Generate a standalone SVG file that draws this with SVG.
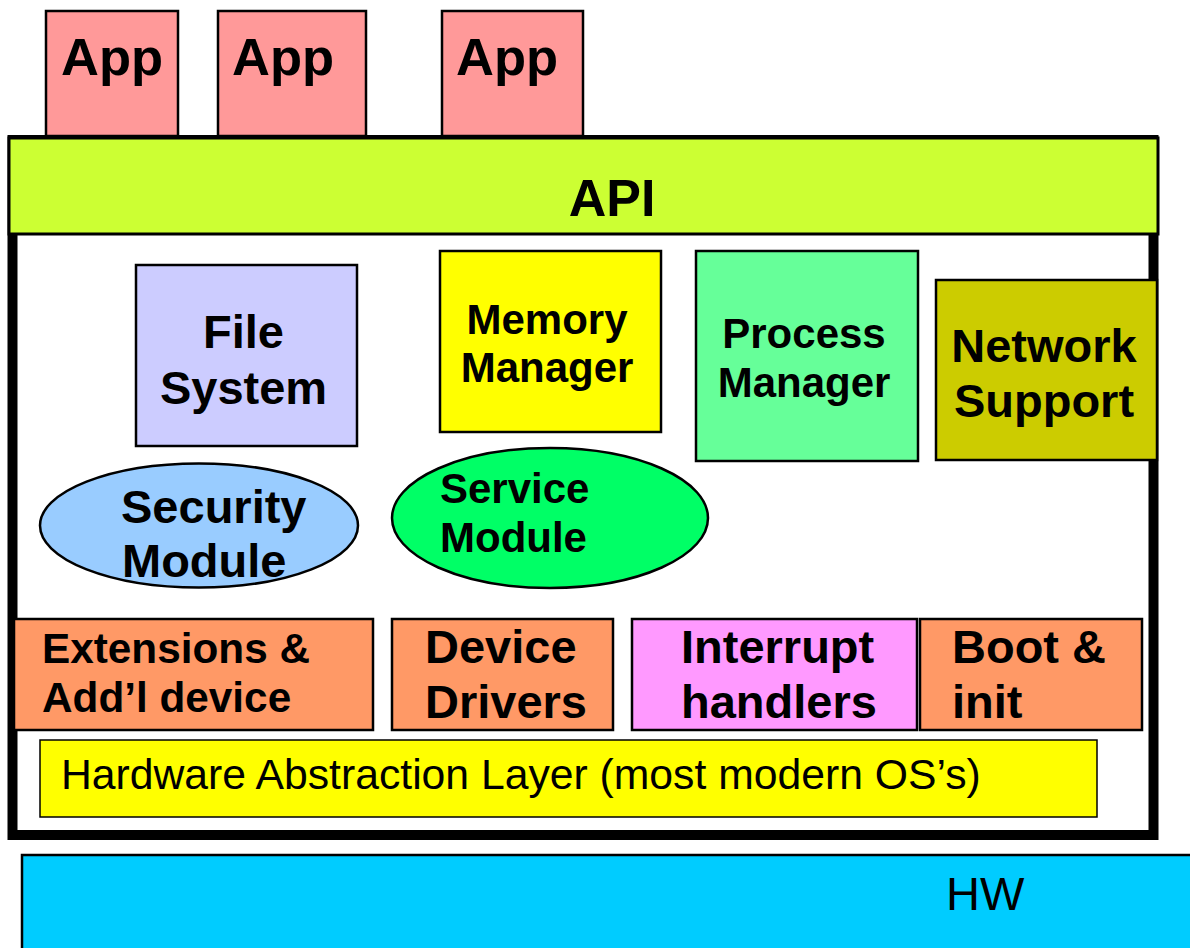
<svg xmlns="http://www.w3.org/2000/svg" width="1190" height="948" viewBox="0 0 1190 948">
  <style>
    .box { stroke: #000; stroke-width: 2.5; }
    .b { font-family: "Liberation Sans", Arial, sans-serif; font-weight: bold; fill: #000; }
    .r { font-family: "Liberation Sans", Arial, sans-serif; fill: #000; }
  </style>
  <rect x="0" y="0" width="1190" height="948" fill="#fff"/>

  <!-- Hardware layer -->
  <g id="hw">
    <rect x="22" y="855" width="1180" height="110" fill="#00CCFF" class="box"/>
    <text x="946" y="910" class="r" font-size="47">HW</text>
  </g>

  <!-- Kernel frame -->
  <g id="kernel">
    <rect x="12.5" y="140" width="1141" height="695" fill="#fff" stroke="#000" stroke-width="10"/>
  </g>

  <!-- Applications -->
  <g id="app1">
    <rect x="46" y="11" width="132" height="125" fill="#FF9999" class="box"/>
    <text x="61" y="75" class="b" font-size="52.5">App</text>
  </g>
  <g id="app2">
    <rect x="218" y="11" width="148" height="125" fill="#FF9999" class="box"/>
    <text x="232" y="75" class="b" font-size="52.5">App</text>
  </g>
  <g id="app3">
    <rect x="442" y="11" width="141" height="125" fill="#FF9999" class="box"/>
    <text x="456" y="75" class="b" font-size="52.5">App</text>
  </g>

  <!-- API layer -->
  <g id="api">
    <rect x="9" y="138" width="1149" height="96" fill="#CCFF33" stroke="#000" stroke-width="3"/>
    <text x="612" y="216" class="b" font-size="52" text-anchor="middle">API</text>
  </g>

  <!-- Kernel subsystems -->
  <g id="file-system">
    <rect x="136" y="265" width="221" height="181" fill="#CCCCFF" class="box"/>
    <text x="243.5" y="348" class="b" font-size="47" text-anchor="middle">File</text>
    <text x="243.5" y="404" class="b" font-size="47" text-anchor="middle">System</text>
  </g>
  <g id="memory-manager">
    <rect x="440" y="251" width="221" height="181" fill="#FFFF00" class="box"/>
    <text x="547" y="334" class="b" font-size="42" text-anchor="middle">Memory</text>
    <text x="547" y="382" class="b" font-size="42" text-anchor="middle">Manager</text>
  </g>
  <g id="process-manager">
    <rect x="696" y="251" width="222" height="210" fill="#66FF99" class="box"/>
    <text x="804" y="348" class="b" font-size="42" text-anchor="middle">Process</text>
    <text x="804" y="397" class="b" font-size="42" text-anchor="middle">Manager</text>
  </g>
  <g id="network-support">
    <rect x="936" y="280" width="221" height="180" fill="#CCCC00" class="box"/>
    <text x="1044" y="362" class="b" font-size="47" text-anchor="middle">Network</text>
    <text x="1044" y="417" class="b" font-size="47" text-anchor="middle">Support</text>
  </g>

  <g id="security-module">
    <ellipse cx="199" cy="525.5" rx="159" ry="62" fill="#99CCFF" stroke="#000" stroke-width="2.5"/>
    <text x="121" y="523" class="b" font-size="47">Security</text>
    <text x="122" y="577" class="b" font-size="47">Module</text>
  </g>
  <g id="service-module">
    <ellipse cx="550" cy="518" rx="158" ry="70" fill="#00FF66" stroke="#000" stroke-width="2.5"/>
    <text x="440" y="503" class="b" font-size="42">Service</text>
    <text x="440" y="552" class="b" font-size="42">Module</text>
  </g>

  <!-- Low-level row -->
  <g id="extensions">
    <rect x="14" y="619" width="359" height="111" fill="#FF9966" class="box"/>
    <text x="42" y="663" class="b" font-size="42.3">Extensions &amp;</text>
    <text x="42" y="712" class="b" font-size="42.3">Add’l device</text>
  </g>
  <g id="device-drivers">
    <rect x="392" y="619" width="221" height="111" fill="#FF9966" class="box"/>
    <text x="425" y="663" class="b" font-size="47">Device</text>
    <text x="425" y="718" class="b" font-size="47">Drivers</text>
  </g>
  <g id="interrupt-handlers">
    <rect x="632" y="619" width="285" height="111" fill="#FF99FF" class="box"/>
    <text x="681" y="663" class="b" font-size="47">Interrupt</text>
    <text x="681" y="718" class="b" font-size="47">handlers</text>
  </g>
  <g id="boot-init">
    <rect x="920" y="619" width="222" height="111" fill="#FF9966" class="box"/>
    <text x="952" y="663" class="b" font-size="47">Boot &amp;</text>
    <text x="952" y="718" class="b" font-size="47">init</text>
  </g>

  <g id="hal">
    <rect x="40" y="740" width="1057" height="77" fill="#FFFF00" stroke="#000" stroke-width="1.5"/>
    <text x="61" y="789" class="r" font-size="42.7">Hardware Abstraction Layer (most modern OS’s)</text>
  </g>

  <g id="connectors"/>
</svg>
